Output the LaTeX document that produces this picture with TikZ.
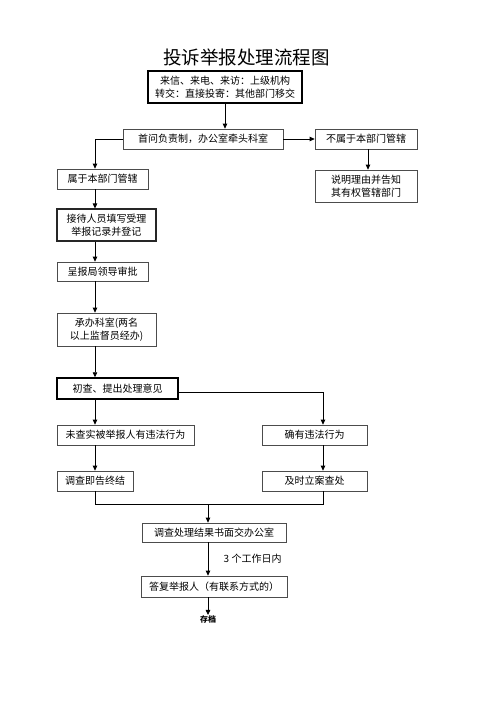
\documentclass[tikz,border=0pt]{standalone}
\usepackage{fontspec}
\setmainfont{Noto Sans CJK SC}
\usepackage{tikz}
\usetikzlibrary{positioning,arrows.meta}
\tikzstyle{block} = [rectangle, draw=black!70, line width=0.7pt, inner sep=0pt,
    align=center, font=\fontsize{10}{13}\selectfont]
\tikzstyle{midblock} = [block, draw=black!85, line width=1.1pt]
\tikzstyle{heavyblock} = [block, draw=black, line width=1.5pt]
\tikzstyle{arr} = [-{Triangle[length=5pt,width=4.5pt]}, line width=0.8pt]
\tikzstyle{joint} = [line width=0.8pt]

\begin{document}
\begin{tikzpicture}[x=1pt,y=-1pt]
        \useasboundingbox (0,0) rectangle (500,707);
        \node (title) at (246.5,57) {\fontsize{18.5}{20}\selectfont 投诉举报处理流程图};

        \coordinate (lcol) at (95,0);
        \coordinate (rcol) at (323,0);
        \coordinate (merge) at (208,504);

        \node[heavyblock, minimum width=154pt, minimum height=32pt] (source) at (225,87) {
            来信、来电、来访：上级机构\\转交：直接投寄：其他部门移交};
        \node[block, minimum width=160pt, minimum height=20pt] (firstask) at (203,139) {首问负责制，办公室牵头科室};
        \node[block, minimum width=102pt, minimum height=20pt] (notours) at (366,139) {不属于本部门管辖};
        \node[block, minimum width=102pt, minimum height=32pt] (explain) at (366,186) {
            说明理由并告知\\其有权管辖部门};

        \node[block, minimum width=91pt, minimum height=20pt] (ours) at (102.5,179) {属于本部门管辖};
        \node[midblock, minimum width=99pt, minimum height=32pt] (record) at (106.5,225) {
            接待人员填写受理\\举报记录并登记};
        \node[block, minimum width=91pt, minimum height=19pt] (approve) at (102.5,271.5) {呈报局领导审批};
        \node[block, minimum width=99pt, minimum height=33pt] (handle) at (106.5,329.5) {
            承办科室(两名\\以上监督员经办)};
        \node[heavyblock, minimum width=121pt, minimum height=21pt] (check) at (117.5,388.5) {初查、提出处理意见};

        \node[block, minimum width=137pt, minimum height=20pt] (noviol) at (125.5,435) {未查实被举报人有违法行为};
        \node[block, minimum width=105pt, minimum height=20pt] (viol) at (314.5,435) {确有违法行为};
        \node[block, minimum width=76pt, minimum height=20pt] (close) at (95,481) {调查即告终结};
        \node[block, minimum width=105pt, minimum height=20pt] (punish) at (314.5,481) {及时立案查处};

        \node[block, minimum width=144pt, minimum height=19pt] (report) at (214,532.5) {调查处理结果书面交办公室};
        \node[block, minimum width=146pt, minimum height=21pt] (reply) at (214,586.5) {答复举报人（有联系方式的）};
        \node[inner sep=0pt, font=\fontsize{8}{9}\selectfont\bfseries] (archive) at (208,619) {存档};

        \draw[arr] (source.south) -- (source.south |- firstask.north);
        \draw[arr] (firstask.east) -- (notours.west);
        \draw[arr] (notours.south -| 368,0) -- (explain.north -| 368,0);
        \draw[arr] (firstask.west) -| (ours.north -| lcol);
        \draw[arr] (ours.south -| lcol) -- (record.north -| lcol);
        \draw[arr] (record.south -| lcol) -- (approve.north -| lcol);
        \draw[arr] (approve.south -| lcol) -- (handle.north -| lcol);
        \draw[arr] (handle.south -| lcol) -- (check.north -| lcol);
        \draw[arr] (check.south -| lcol) -- (noviol.north -| lcol);
        \draw[arr] ([yshift=-3.5pt]check.east) -| (viol.north -| rcol);
        \draw[arr] (noviol.south -| lcol) -- (close.north -| lcol);
        \draw[arr] (viol.south -| rcol) -- (punish.north -| rcol);
        \draw[joint] (close.south -| lcol) |- (merge);
        \draw[joint] (punish.south -| rcol) |- (merge);
        \draw[arr] (merge) -- (report.north -| merge);
        \draw[arr] (report.south -| merge) -- node[right=12pt, font=\fontsize{10}{12}\selectfont] {3 个工作日内} (reply.north -| merge);
        \draw[arr] (reply.south -| merge) -- (archive.north);
    \end{tikzpicture}
\end{document}
